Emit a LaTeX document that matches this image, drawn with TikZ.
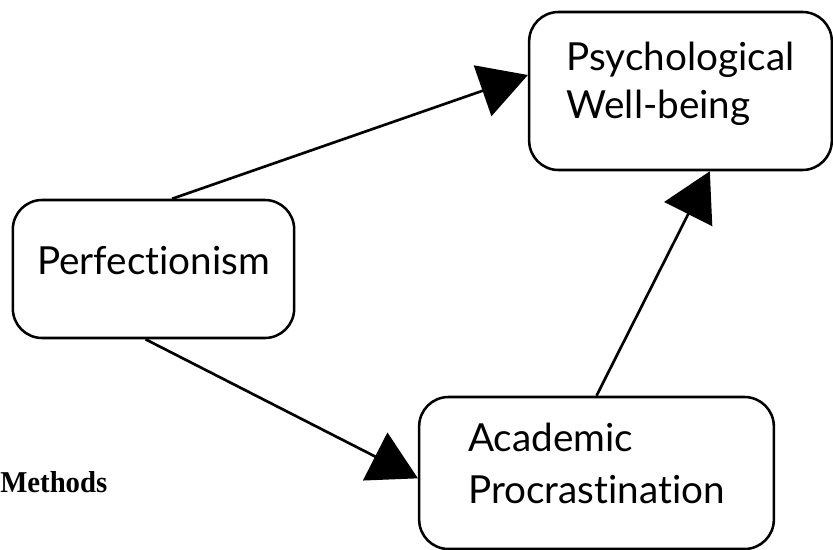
\documentclass[tikz,border=0pt]{standalone}
\usepackage{fontspec}
\setmainfont{Liberation Serif}
\newfontfamily\boxfont[Ligatures={NoCommon,NoDiscretionary}]{Lato}
\usetikzlibrary{arrows.meta}

\tikzset{
    varbox/.style={draw, line width=1.9pt, rounded corners=22pt, align=left, inner sep=0pt,
        font=\boxfont\fontsize{29}{36}\selectfont},
    path arrow/.style={line width=2pt, -{Triangle[length=36pt,width=40pt]}},
}

\begin{document}
\begin{tikzpicture}[x=0.75pt,y=0.75pt,yscale=-1,xscale=1]
    \useasboundingbox (0,0) rectangle (833,550);
    \node [varbox, minimum width=227pt, minimum height=118.5pt, text depth=16pt] (pwb) at (680.5,91) {Psychological\\Well-being};
    \node [varbox, minimum width=211pt, minimum height=103.5pt, text depth=13.5pt] (perf) at (153.5,269) {Perfectionism};
    \node [varbox, minimum width=266pt, minimum height=114pt, text depth=15pt,
        font=\boxfont\fontsize{29}{39}\selectfont] (acp) at (596.5,473) {Academic\\Procrastination};
    \node [anchor=base west, inner sep=0pt, font=\bfseries\fontsize{22.7}{27}\selectfont] (methods) at (0,492) {\scalebox{0.95}[1]{Methods}};
    \draw [path arrow] ([xshift=14pt]perf.north) -- ([yshift=-12pt]pwb.west);
    \draw [path arrow] ([xshift=-6pt]perf.south) -- ([yshift=4pt]acp.west);
    \draw [path arrow] (acp.north) -- ([xshift=22pt]pwb.south);
\end{tikzpicture}
\end{document}
